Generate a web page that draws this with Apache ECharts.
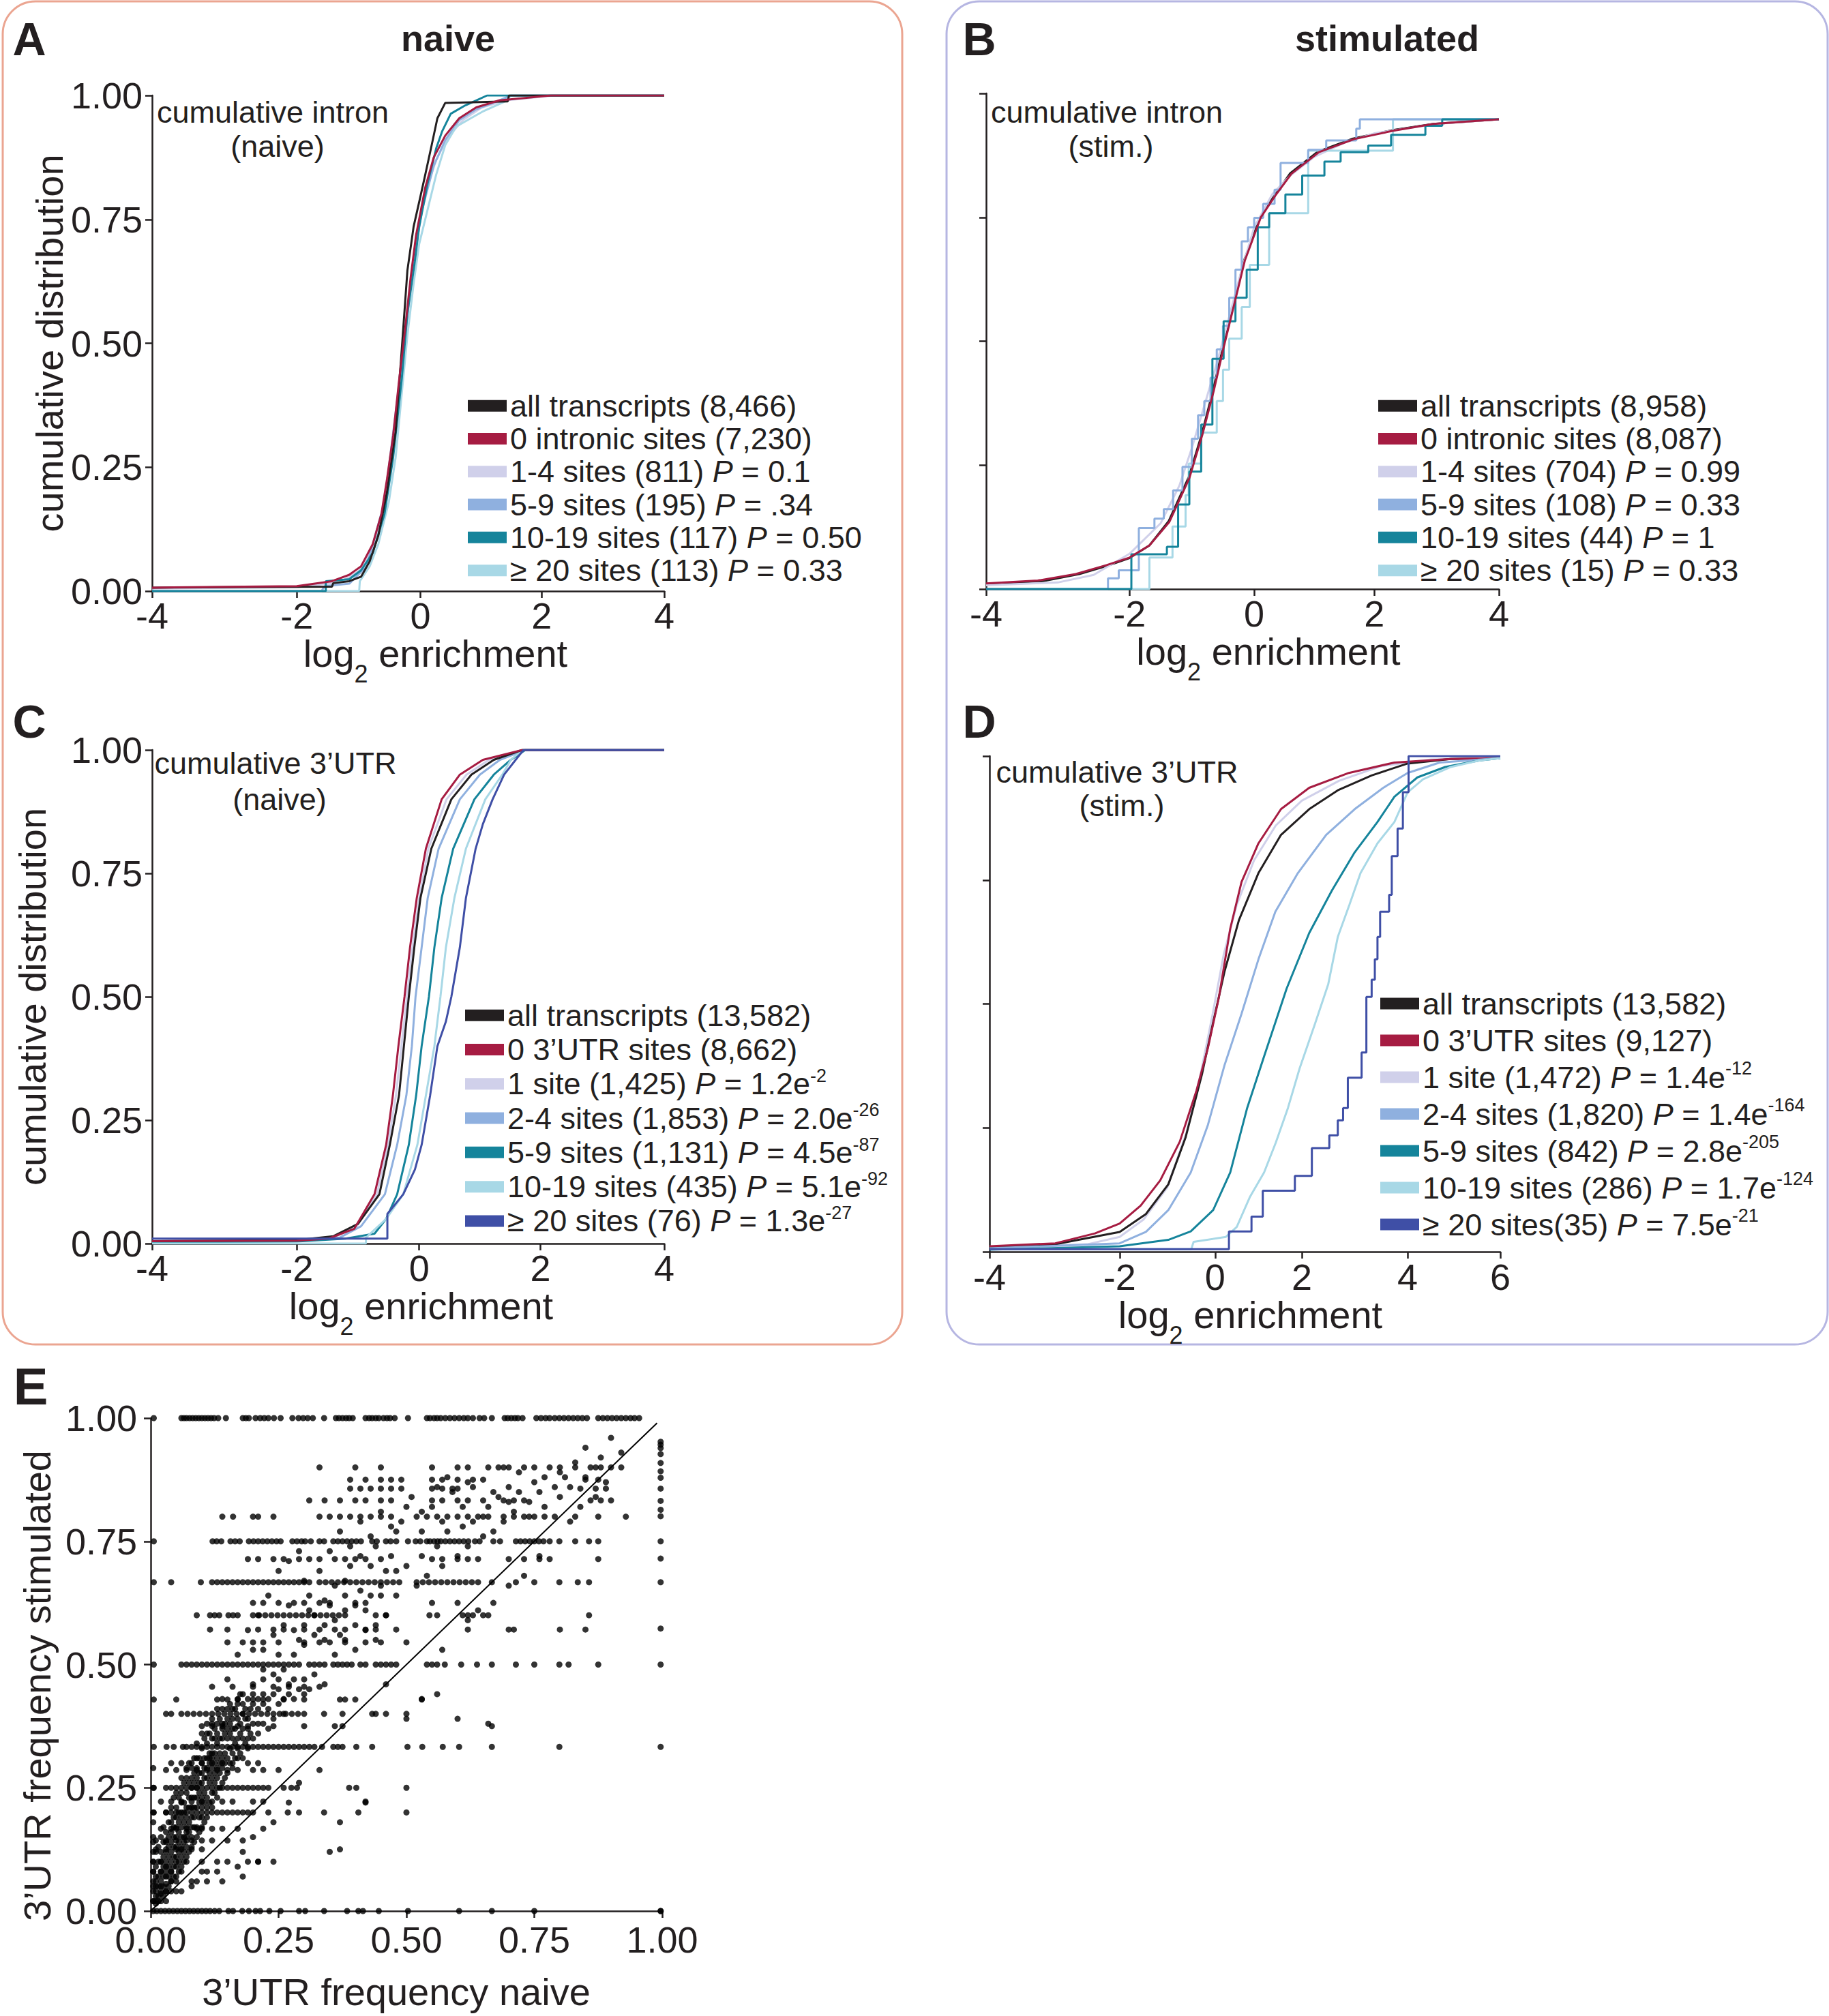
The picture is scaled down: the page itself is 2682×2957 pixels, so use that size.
<!DOCTYPE html>
<html><head><meta charset="utf-8">
<script src="https://cdn.jsdelivr.net/npm/echarts@6/dist/echarts.min.js"></script>
<style>html,body{margin:0;padding:0;background:#fff}#c{width:2682px;height:2957px}</style>
</head><body><div id="c"></div>
<script>
// ---------- tick values of the log2 enrichment axes ----------
const X_TICKS_ABC = [-4,-2,0,2,4];
const X_TICKS_D   = [-4,-2,0,2,4,6];

// ---------- Panel A: cumulative intron (naive) ----------
const A_all   = [[-4,0.007],[-1.43,0.009],[-1.41,0.016],[-1.15,0.02],[-0.96,0.029],[-0.82,0.06],[-0.68,0.112],[-0.54,0.2],[-0.4,0.323],[-0.3,0.49],[-0.21,0.647],[-0.11,0.735],[0,0.796],[0.08,0.84],[0.19,0.902],[0.28,0.954],[0.41,0.985],[1.44,0.988],[1.46,1.0],[4,1.0]];
const A_zero  = [[-4,0.007],[-2,0.01],[-1.43,0.02],[-1.15,0.033],[-0.96,0.05],[-0.77,0.095],[-0.63,0.156],[-0.54,0.226],[-0.44,0.314],[-0.35,0.419],[-0.25,0.525],[-0.16,0.63],[-0.07,0.718],[0.08,0.814],[0.22,0.875],[0.41,0.919],[0.64,0.954],[0.92,0.976],[1.3,0.99],[2.15,1.0],[4,1.0]];
const A_s1to4 = [[-4,0.005],[-2,0.008],[-1.3,0.018],[-1.0,0.04],[-0.8,0.08],[-0.65,0.14],[-0.52,0.23],[-0.42,0.33],[-0.33,0.44],[-0.24,0.54],[-0.14,0.64],[-0.04,0.73],[0.1,0.81],[0.26,0.87],[0.45,0.915],[0.7,0.95],[1.0,0.975],[1.4,0.99],[2.2,1.0],[4,1.0]];
const A_s5to9 = [[-4,0.0],[-1.6,0.0],[-1.55,0.01],[-1.15,0.015],[-0.87,0.05],[-0.58,0.18],[-0.4,0.36],[-0.25,0.51],[-0.11,0.665],[0.03,0.77],[0.22,0.858],[0.41,0.91],[0.64,0.95],[0.92,0.972],[1.2,0.985],[1.5,1.0],[4,1.0]];
const A_s10to19 = [[-4,0],[-1.53,0],[-1.53,0.02],[-1.15,0.024],[-0.96,0.042],[-0.77,0.077],[-0.58,0.156],[-0.44,0.27],[-0.3,0.43],[-0.21,0.56],[-0.09,0.665],[-0.02,0.735],[0.12,0.823],[0.26,0.893],[0.36,0.928],[0.5,0.963],[0.74,0.98],[0.92,0.99],[1.1,1.0],[4,1.0]];
const A_s20   = [[-4,0],[-0.99,0],[-0.98,0.02],[-0.82,0.05],[-0.68,0.095],[-0.51,0.18],[-0.4,0.27],[-0.3,0.4],[-0.21,0.516],[-0.11,0.62],[-0.02,0.7],[0.12,0.77],[0.26,0.84],[0.41,0.9],[0.59,0.937],[0.83,0.954],[1.02,0.967],[1.4,0.988],[1.49,1.0],[4,1.0]];

// ---------- Panel B: cumulative intron (stim.) ----------
const B_all   = [[-4,0.01],[-3.2,0.017],[-2.7,0.032],[-2.3,0.05],[-2.0,0.066],[-1.68,0.093],[-1.37,0.145],[-1.05,0.238],[-0.84,0.33],[-0.66,0.423],[-0.5,0.515],[-0.33,0.607],[-0.16,0.7],[0.1,0.792],[0.34,0.838],[0.6,0.885],[1.06,0.931],[1.65,0.959],[2.3,0.977],[2.95,0.99],[4,1.0]];
const B_zero  = [[-4,0.012],[-3.28,0.018],[-2.75,0.032],[-2.32,0.051],[-2.0,0.067],[-1.68,0.093],[-1.36,0.143],[-1.04,0.236],[-0.83,0.329],[-0.65,0.421],[-0.49,0.514],[-0.32,0.606],[-0.15,0.699],[0.11,0.791],[0.35,0.837],[0.62,0.884],[1.08,0.93],[1.67,0.958],[2.32,0.976],[2.95,0.99],[4,1.0]];
const B_s1to4 = [[-4,0.008],[-3,0.014],[-2.5,0.03],[-2.0,0.075],[-1.5,0.14],[-1.2,0.22],[-1.0,0.3],[-0.8,0.39],[-0.6,0.48],[-0.4,0.58],[-0.2,0.68],[0,0.77],[0.3,0.84],[0.6,0.88],[1.0,0.92],[1.5,0.95],[2,0.97],[3,0.99],[4,1.0]];
const B_s5to9 = [[-4,0.0],[-2.3,0.023],[-2.15,0.04],[-1.85,0.13],[-1.6,0.15],[-1.45,0.17],[-1.3,0.21],[-1.15,0.26],[-1.0,0.32],[-0.9,0.37],[-0.8,0.4],[-0.7,0.45],[-0.6,0.51],[-0.5,0.56],[-0.4,0.62],[-0.3,0.68],[-0.2,0.74],[-0.1,0.77],[0.0,0.79],[0.15,0.82],[0.34,0.85],[0.44,0.907],[0.9,0.935],[1.2,0.955],[1.7,0.98],[1.76,1.0],[4,1.0]];
const B_s10to19 = [[-4,0],[-1.97,0.074],[-1.4,0.09],[-1.22,0.18],[-1.04,0.25],[-0.85,0.35],[-0.67,0.49],[-0.49,0.57],[-0.3,0.62],[-0.12,0.68],[0.06,0.77],[0.25,0.8],[0.52,0.84],[0.8,0.88],[1.17,0.91],[1.44,0.93],[1.9,0.944],[2.27,0.967],[2.82,0.986],[3.09,1.0],[4,1.0]];
const B_s20   = [[-4,0],[-1.68,0.067],[-1.31,0.133],[-1.1,0.2],[-1.05,0.267],[-0.85,0.333],[-0.6,0.4],[-0.5,0.467],[-0.4,0.533],[-0.2,0.6],[-0.07,0.69],[0.25,0.8],[0.9,0.933],[2.3,1.0],[4,1.0]];

// ---------- Panel C: cumulative 3'UTR (naive) ----------
const C_all   = [[-4,0.005],[-2,0.007],[-1.4,0.015],[-1.0,0.04],[-0.65,0.1],[-0.48,0.2],[-0.33,0.3],[-0.25,0.4],[-0.17,0.5],[-0.08,0.6],[0.02,0.7],[0.2,0.8],[0.53,0.9],[0.86,0.95],[1.23,0.98],[1.7,1.0],[4,1.0]];
const C_zero  = [[-4,0.005],[-2,0.006],[-1.48,0.01],[-1.06,0.03],[-0.73,0.1],[-0.54,0.2],[-0.43,0.3],[-0.34,0.4],[-0.24,0.5],[-0.15,0.6],[-0.04,0.7],[0.11,0.8],[0.37,0.9],[0.67,0.95],[1.05,0.98],[1.7,1.0],[4,1.0]];
const C_s1    = [[-4,0.004],[-2,0.006],[-1.4,0.012],[-1.02,0.035],[-0.69,0.1],[-0.51,0.2],[-0.38,0.3],[-0.29,0.4],[-0.2,0.5],[-0.11,0.6],[0.0,0.7],[0.15,0.8],[0.45,0.9],[0.78,0.95],[1.15,0.98],[1.7,1.0],[4,1.0]];
const C_s2to4 = [[-4,0.003],[-2,0.005],[-1.3,0.012],[-0.95,0.035],[-0.56,0.1],[-0.36,0.2],[-0.21,0.3],[-0.12,0.4],[-0.06,0.5],[0.04,0.6],[0.14,0.7],[0.32,0.8],[0.67,0.9],[1.0,0.95],[1.33,0.98],[1.75,1.0],[4,1.0]];
const C_s5to9 = [[-4,0.003],[-2,0.004],[-1.2,0.01],[-0.73,0.02],[-0.54,0.05],[-0.36,0.1],[-0.17,0.2],[-0.05,0.3],[0.04,0.4],[0.16,0.5],[0.25,0.6],[0.37,0.7],[0.56,0.8],[0.91,0.9],[1.23,0.95],[1.51,0.98],[1.75,1.0],[4,1.0]];
const C_s10to19 = [[-4,0],[-0.87,0],[-0.87,0.012],[-0.54,0.05],[-0.26,0.1],[-0.03,0.2],[0.11,0.3],[0.25,0.4],[0.35,0.5],[0.44,0.6],[0.58,0.7],[0.77,0.8],[1.09,0.9],[1.37,0.95],[1.51,0.98],[1.7,1.0],[4,1.0]];
const C_s20   = [[-4,0.01],[-0.52,0.01],[-0.52,0.06],[-0.26,0.1],[-0.07,0.15],[0.04,0.2],[0.18,0.3],[0.3,0.4],[0.44,0.45],[0.53,0.5],[0.67,0.6],[0.77,0.7],[0.93,0.8],[1.05,0.85],[1.21,0.9],[1.4,0.95],[1.59,0.98],[1.72,1.0],[4,1.0]];

// ---------- Panel D: cumulative 3'UTR (stim.) ----------
const D_all   = [[-4,0.009],[-2.99,0.015],[-2,0.04],[-1.45,0.076],[-0.98,0.136],[-0.62,0.23],[-0.27,0.36],[-0.04,0.463],[0.22,0.566],[0.55,0.669],[1.0,0.764],[1.52,0.841],[2.14,0.893],[2.68,0.931],[3.32,0.961],[4,0.985],[4.93,0.994],[6,0.996]];
const D_zero  = [[-4,0.011],[-2.99,0.017],[-2.38,0.037],[-2,0.057],[-1.56,0.093],[-1.15,0.144],[-0.74,0.222],[-0.39,0.325],[-0.15,0.411],[0.09,0.514],[0.35,0.652],[0.61,0.746],[1.0,0.824],[1.52,0.893],[2.14,0.936],[2.89,0.966],[3.75,0.987],[4.93,0.994],[6,0.996]];
const D_s1    = [[-4,0.008],[-2.5,0.015],[-2,0.03],[-1.5,0.065],[-1.0,0.13],[-0.6,0.24],[-0.3,0.36],[-0.05,0.48],[0.2,0.6],[0.5,0.7],[0.9,0.79],[1.4,0.86],[2.0,0.91],[2.7,0.95],[3.5,0.98],[4.5,0.993],[6,0.996]];
const D_s2to4 = [[-4,0.007],[-2,0.017],[-1.45,0.04],[-0.98,0.084],[-0.51,0.16],[-0.15,0.256],[0.22,0.377],[0.61,0.48],[1.0,0.59],[1.39,0.686],[1.91,0.764],[2.46,0.841],[3.0,0.893],[3.54,0.936],[4,0.966],[4.69,0.987],[6,0.996]];
const D_s5to9 = [[-4,0.004],[-2,0.011],[-0.98,0.024],[-0.51,0.041],[-0.04,0.084],[0.35,0.16],[0.74,0.29],[1.13,0.394],[1.65,0.531],[2.14,0.643],[2.57,0.729],[3.0,0.806],[3.43,0.867],[3.75,0.918],[4.21,0.957],[4.81,0.978],[5.54,0.991],[6,0.996]];
const D_s10to19 = [[-4,0.005],[-0.5,0.005],[-0.45,0.02],[0.25,0.03],[0.5,0.05],[0.8,0.11],[1.13,0.16],[1.4,0.22],[1.68,0.29],[1.95,0.37],[2.25,0.46],[2.5,0.54],[2.68,0.635],[2.9,0.7],[3.11,0.764],[3.43,0.824],[3.75,0.867],[4,0.927],[4.33,0.953],[4.93,0.978],[5.54,0.991],[6,0.996]];
const D_s20   = [[-4,0.005],[0.32,0.041],[0.84,0.071],[1.1,0.123],[1.84,0.153],[2.19,0.209],[2.52,0.235],[2.68,0.265],[2.78,0.29],[2.87,0.351],[3.13,0.402],[3.22,0.514],[3.32,0.549],[3.38,0.59],[3.43,0.635],[3.48,0.686],[3.65,0.72],[3.7,0.798],[3.81,0.854],[3.91,0.927],[4.02,1.0],[6,1.0]];

// ---------- Panel E: scatter, 3'UTR frequency naive (x) vs stimulated (y) ----------
const E_bandY = [1.0,0.0,0.9,0.875,0.857,0.833,0.8,0.75,0.714,0.667,0.625,0.6,0.571,0.545,0.5,0.455,0.429,0.4,0.375,0.333,0.3,0.286,0.25,0.222,0.2,0.167,0.143,0.125,0.1,0.08,0.06,0.04,0.02];
const E_bandX = [
 [0.006,0.06,0.065,0.07,0.076,0.082,0.088,0.094,0.1,0.106,0.112,0.118,0.124,0.132,0.147,0.18,0.186,0.192,0.205,0.214,0.222,0.23,0.241,0.254,0.277,0.289,0.298,0.307,0.317,0.339,0.362,0.368,0.375,0.382,0.388,0.395,0.42,0.427,0.433,0.44,0.446,0.455,0.462,0.468,0.477,0.503,0.54,0.546,0.554,0.56,0.567,0.576,0.585,0.594,0.603,0.612,0.62,0.63,0.643,0.652,0.667,0.692,0.698,0.705,0.712,0.718,0.727,0.754,0.763,0.772,0.78,0.79,0.799,0.808,0.817,0.826,0.835,0.844,0.853,0.875,0.884,0.893,0.902,0.911,0.92,0.929,0.938,0.946,0.955],
 [0.005,0.012,0.02,0.028,0.036,0.044,0.052,0.06,0.068,0.076,0.084,0.092,0.1,0.108,0.116,0.125,0.134,0.152,0.161,0.179,0.192,0.205,0.214,0.232,0.254,0.29,0.302,0.339,0.384,0.406,0.415,0.446,0.503,0.603,0.667,0.75,0.997],
 [0.33,0.4,0.45,0.55,0.6,0.62,0.68,0.7,0.73,0.75,0.78,0.8,0.83,0.87,0.9,0.92],
 [0.39,0.42,0.45,0.47,0.49,0.55,0.57,0.6,0.63,0.65,0.85,0.875],
 [0.39,0.41,0.43,0.45,0.47,0.49,0.55,0.57,0.59,0.6,0.84,0.87,0.89],
 [0.31,0.34,0.37,0.4,0.42,0.45,0.47,0.55,0.57,0.6,0.62,0.65,0.69,0.71,0.73,0.86,0.88,0.9],
 [0.14,0.161,0.2,0.21,0.24,0.33,0.35,0.37,0.39,0.41,0.43,0.45,0.47,0.52,0.54,0.56,0.58,0.6,0.62,0.64,0.66,0.69,0.71,0.73,0.75,0.77,0.79,0.83,0.875,0.929],
 [0.006,0.121,0.129,0.138,0.156,0.165,0.174,0.192,0.201,0.21,0.219,0.228,0.237,0.246,0.254,0.277,0.286,0.295,0.302,0.313,0.33,0.339,0.357,0.366,0.375,0.384,0.393,0.402,0.411,0.433,0.442,0.46,0.469,0.48,0.503,0.518,0.527,0.54,0.546,0.554,0.561,0.567,0.576,0.585,0.594,0.603,0.612,0.621,0.634,0.643,0.67,0.683,0.714,0.723,0.732,0.741,0.75,0.759,0.768,0.799,0.83,0.857,0.875],
 [0.19,0.21,0.24,0.26,0.29,0.31,0.33,0.36,0.38,0.4,0.42,0.45,0.55,0.57,0.6,0.62,0.64,0.7,0.73,0.76,0.78,0.875],
 [0.006,0.04,0.098,0.12,0.13,0.14,0.15,0.16,0.17,0.18,0.19,0.2,0.21,0.22,0.23,0.24,0.25,0.26,0.27,0.28,0.29,0.3,0.31,0.33,0.342,0.354,0.366,0.378,0.39,0.402,0.414,0.426,0.438,0.45,0.462,0.474,0.486,0.52,0.532,0.544,0.556,0.568,0.58,0.592,0.604,0.616,0.628,0.64,0.667,0.714,0.75,0.799,0.835,0.857],
 [0.2,0.22,0.25,0.28,0.3,0.33,0.35,0.4,0.42,0.55,0.6,0.67],
 [0.09,0.116,0.125,0.134,0.152,0.161,0.17,0.2,0.212,0.224,0.236,0.248,0.26,0.272,0.284,0.296,0.308,0.32,0.332,0.344,0.356,0.368,0.38,0.44,0.46,0.545,0.56,0.61,0.62,0.63,0.65,0.857],
 [0.116,0.15,0.21,0.24,0.26,0.3,0.33,0.36,0.38,0.42,0.44,0.48,0.62,0.7,0.71,0.8,0.85],
 [0.15,0.18,0.2,0.22,0.25,0.3,0.33,0.35,0.38,0.42,0.45,0.5],
 [0.006,0.06,0.07,0.08,0.09,0.1,0.11,0.12,0.13,0.14,0.15,0.16,0.17,0.18,0.19,0.2,0.21,0.22,0.23,0.24,0.25,0.26,0.27,0.28,0.29,0.31,0.32,0.33,0.34,0.357,0.366,0.375,0.384,0.393,0.41,0.42,0.44,0.45,0.46,0.47,0.48,0.54,0.55,0.56,0.575,0.607,0.638,0.667,0.714,0.75,0.799,0.817,0.875],
 [0.12,0.16,0.2,0.24,0.27,0.3,0.33],
 [0.006,0.05,0.13,0.15,0.17,0.2,0.22,0.26,0.3,0.37,0.38,0.4,0.53],
 [0.03,0.04,0.06,0.072,0.084,0.096,0.108,0.12,0.132,0.144,0.156,0.168,0.18,0.192,0.204,0.216,0.228,0.24,0.252,0.264,0.276,0.288,0.3,0.339,0.375,0.433,0.46,0.5],
 [0.1,0.12,0.14,0.17,0.19,0.24,0.3,0.36,0.375,0.667],
 [0.006,0.031,0.045,0.063,0.07,0.08,0.09,0.1,0.11,0.12,0.13,0.14,0.15,0.16,0.17,0.18,0.19,0.2,0.21,0.22,0.23,0.24,0.25,0.26,0.27,0.28,0.29,0.3,0.31,0.32,0.335,0.357,0.366,0.375,0.402,0.433,0.502,0.531,0.571,0.603,0.667,0.799],
 [0.04,0.06,0.08,0.1,0.12,0.14,0.16,0.19,0.21],
 [0.03,0.05,0.07,0.09,0.11,0.13,0.15,0.17,0.2,0.22,0.25,0.33],
 [0.006,0.03,0.04,0.05,0.06,0.07,0.08,0.09,0.1,0.11,0.12,0.13,0.14,0.15,0.16,0.17,0.18,0.19,0.2,0.21,0.22,0.23,0.26,0.275,0.286,0.388,0.402,0.5],
 [0.02,0.04,0.06,0.08,0.1,0.12,0.14,0.16,0.2,0.22,0.42],
 [0.006,0.03,0.04,0.05,0.06,0.07,0.08,0.09,0.1,0.11,0.12,0.13,0.14,0.15,0.16,0.17,0.18,0.19,0.2,0.23,0.268,0.29,0.339,0.406,0.5],
 [0.02,0.04,0.05,0.07,0.09,0.1,0.12,0.14,0.17,0.22],
 [0.01,0.03,0.05,0.07,0.08,0.1,0.12,0.15,0.18],
 [0.01,0.03,0.05,0.06,0.08,0.1,0.37],
 [0.005,0.02,0.03,0.05,0.07,0.1,0.19,0.21,0.24],
 [0.005,0.02,0.03,0.04,0.06,0.1,0.13],
 [0.005,0.01,0.02,0.04,0.05,0.08,0.11,0.14],
 [0.005,0.01,0.02,0.03,0.04,0.05],
 [0.005,0.01,0.02,0.03]
];
const E_colX1_Y = [0.952,0.946,0.939,0.927,0.909,0.892,0.879,0.857,0.832,0.814,0.801,0.75,0.715,0.667,0.573,0.5,0.333,0.0];
const E_misc = [[0.01,0.015],[0.015,0.03],[0.02,0.035],[0.025,0.05],[0.03,0.055],[0.035,0.07],[0.04,0.08],[0.045,0.09],[0.05,0.11],[0.055,0.12],[0.06,0.13],[0.065,0.15],[0.07,0.16],[0.075,0.18],[0.08,0.19],[0.085,0.21],[0.09,0.23],[0.095,0.24],[0.1,0.26],[0.105,0.27],[0.11,0.29],[0.115,0.31],[0.12,0.32],[0.125,0.35],[0.13,0.36],[0.14,0.38],[0.15,0.39],[0.16,0.41],[0.17,0.43],[0.18,0.44],[0.2,0.46],[0.22,0.47],[0.24,0.48],[0.26,0.49],[0.28,0.52],[0.3,0.54],[0.32,0.56],[0.34,0.58],[0.36,0.59],[0.38,0.61],[0.4,0.62],[0.43,0.64],[0.45,0.66],[0.48,0.69],[0.5,0.7],[0.53,0.72],[0.56,0.74],[0.58,0.77],[0.61,0.78],[0.63,0.79],[0.66,0.82],[0.68,0.84],[0.7,0.86],[0.72,0.85],[0.75,0.87],[0.77,0.88],[0.8,0.89],[0.83,0.91],[0.85,0.94],[0.88,0.92],[0.9,0.96],[0.92,0.93],
 [0.2,0.15],[0.18,0.12],[0.21,0.1],[0.24,0.18],[0.27,0.22],[0.29,0.26],[0.35,0.12],[0.37,0.18],[0.42,0.22],[0.44,0.4],[0.46,0.46],[0.56,0.44],[0.53,0.43],[0.57,0.53],[0.62,0.59],[0.64,0.61],[0.66,0.6],[0.7,0.66],[0.73,0.68],[0.76,0.72],[0.78,0.75],[0.82,0.79],[0.84,0.82],[0.87,0.84],[0.89,0.87],[0.6,0.39],[0.66,0.38],[0.5,0.39],[0.09,0.06],[0.11,0.08],[0.13,0.1],[0.08,0.05],[0.06,0.04],[0.17,0.09],[0.15,0.1],[0.18,0.07],
 [0.005,0.05],[0.005,0.08],[0.005,0.12],[0.005,0.15],[0.005,0.18],[0.005,0.25],[0.005,0.29],[0.01,0.07],[0.015,0.1],[0.02,0.12],[0.025,0.14],[0.03,0.16],[0.035,0.11],[0.04,0.14],[0.045,0.17],[0.05,0.19],[0.055,0.16],[0.06,0.22],[0.065,0.2],[0.07,0.24],[0.075,0.21],[0.08,0.27],[0.085,0.17],[0.09,0.31],[0.095,0.19],[0.1,0.33],[0.105,0.22],[0.11,0.36],[0.115,0.26],[0.12,0.38],[0.125,0.28],[0.13,0.41],[0.135,0.3],[0.14,0.43],[0.145,0.27],[0.15,0.35],[0.16,0.37],[0.17,0.31],[0.18,0.4],[0.19,0.35],[0.2,0.42],[0.21,0.38],[0.22,0.44],[0.23,0.41],[0.25,0.45],[0.26,0.43],[0.28,0.47],[0.3,0.44],[0.32,0.48],[0.34,0.46],[0.36,0.52],[0.38,0.55],[0.4,0.53],[0.42,0.57],[0.44,0.58],[0.46,0.6],[0.48,0.64],[0.52,0.66],[0.54,0.68],[0.57,0.7],[0.6,0.72],[0.62,0.74],[0.65,0.76],[0.67,0.77],[0.69,0.79],[0.71,0.81],[0.74,0.83],[0.76,0.85],[0.79,0.86],[0.81,0.88],[0.86,0.9]];
const E_dense = [[0.005,0.02],[0.005,0.1],[0.005,0.14],[0.005,0.2],[0.01,0.03],[0.01,0.05],[0.01,0.09],[0.01,0.12],[0.015,0.02],[0.015,0.05],[0.015,0.07],[0.015,0.13],[0.02,0.05],[0.02,0.08],[0.02,0.1],[0.02,0.15],[0.025,0.03],[0.025,0.07],[0.025,0.09],[0.025,0.11],[0.025,0.17],[0.03,0.04],[0.03,0.07],[0.03,0.09],[0.03,0.12],[0.03,0.14],[0.03,0.2],[0.035,0.05],[0.035,0.09],[0.035,0.13],[0.035,0.15],[0.035,0.18],[0.04,0.06],[0.04,0.1],[0.04,0.12],[0.04,0.16],[0.04,0.18],[0.04,0.21],[0.045,0.07],[0.045,0.11],[0.045,0.13],[0.045,0.15],[0.045,0.19],[0.045,0.23],[0.05,0.07],[0.05,0.09],[0.05,0.13],[0.05,0.15],[0.05,0.17],[0.05,0.21],[0.05,0.24],[0.055,0.08],[0.055,0.1],[0.055,0.14],[0.055,0.18],[0.055,0.2],[0.055,0.23],[0.06,0.09],[0.06,0.11],[0.06,0.15],[0.06,0.17],[0.06,0.19],[0.06,0.24],[0.06,0.27],[0.065,0.1],[0.065,0.12],[0.065,0.14],[0.065,0.18],[0.065,0.22],[0.065,0.26],[0.07,0.11],[0.07,0.13],[0.07,0.15],[0.07,0.17],[0.07,0.19],[0.07,0.21],[0.07,0.27],[0.07,0.29],[0.075,0.12],[0.075,0.16],[0.075,0.23],[0.075,0.26],[0.075,0.3],[0.08,0.13],[0.08,0.15],[0.08,0.17],[0.08,0.21],[0.08,0.23],[0.08,0.25],[0.08,0.29],[0.085,0.14],[0.085,0.19],[0.085,0.23],[0.085,0.26],[0.085,0.28],[0.085,0.31],[0.09,0.15],[0.09,0.17],[0.09,0.21],[0.09,0.25],[0.09,0.27],[0.09,0.29],[0.09,0.34],[0.095,0.16],[0.095,0.22],[0.095,0.26],[0.095,0.28],[0.095,0.31],[0.1,0.17],[0.1,0.19],[0.1,0.21],[0.1,0.23],[0.1,0.28],[0.1,0.3],[0.1,0.36],[0.105,0.18],[0.105,0.24],[0.105,0.29],[0.105,0.31],[0.105,0.35],[0.11,0.19],[0.11,0.21],[0.11,0.23],[0.11,0.27],[0.11,0.31],[0.11,0.34],[0.11,0.38],[0.115,0.22],[0.115,0.28],[0.115,0.3],[0.115,0.32],[0.115,0.36],[0.12,0.21],[0.12,0.24],[0.12,0.27],[0.12,0.29],[0.12,0.31],[0.12,0.35],[0.12,0.39],[0.125,0.24],[0.125,0.26],[0.125,0.3],[0.125,0.32],[0.125,0.37],[0.13,0.23],[0.13,0.27],[0.13,0.29],[0.13,0.31],[0.13,0.34],[0.13,0.38],[0.135,0.25],[0.135,0.28],[0.135,0.32],[0.135,0.35],[0.135,0.39],[0.14,0.26],[0.14,0.29],[0.14,0.31],[0.14,0.35],[0.14,0.37],[0.14,0.41],[0.145,0.3],[0.145,0.32],[0.145,0.36],[0.145,0.38],[0.15,0.28],[0.15,0.31],[0.15,0.37],[0.15,0.41],[0.155,0.3],[0.155,0.33],[0.155,0.36],[0.155,0.38],[0.155,0.42],[0.16,0.29],[0.16,0.32],[0.16,0.35],[0.16,0.39],[0.165,0.31],[0.165,0.34],[0.165,0.37],[0.165,0.41],[0.17,0.33],[0.17,0.35],[0.17,0.39],[0.17,0.42],[0.175,0.32],[0.175,0.36],[0.175,0.38],[0.175,0.44],[0.18,0.31],[0.18,0.35],[0.18,0.37],[0.18,0.42],[0.185,0.34],[0.185,0.39],[0.185,0.41],[0.19,0.33],[0.19,0.37],[0.19,0.39],[0.19,0.43],[0.195,0.36],[0.195,0.41],[0.2,0.35],[0.2,0.38],[0.2,0.44],[0.21,0.36],[0.21,0.41],[0.21,0.43],[0.22,0.38],[0.22,0.42],[0.23,0.37],[0.23,0.43],[0.24,0.39],[0.24,0.44],[0.25,0.42],[0.25,0.47],[0.26,0.4],[0.27,0.44],[0.27,0.46],[0.28,0.43],[0.29,0.45],[0.3,0.47],[0.31,0.45],
 [0.22,0.53],[0.24,0.56],[0.26,0.58],[0.27,0.62],[0.29,0.55],[0.3,0.58],[0.31,0.64],[0.32,0.6],[0.33,0.69],[0.34,0.55],[0.35,0.62],[0.36,0.66],[0.37,0.56],[0.38,0.64],[0.39,0.7],[0.4,0.58],[0.41,0.65],[0.42,0.61],[0.43,0.7],[0.44,0.55],[0.45,0.64],[0.46,0.69],[0.47,0.78],[0.35,0.73],[0.37,0.77],[0.39,0.74],[0.41,0.79],[0.43,0.76],[0.45,0.81],[0.47,0.72],[0.49,0.79],[0.51,0.84],[0.53,0.77],[0.55,0.82],[0.57,0.79],[0.59,0.85],[0.61,0.82],[0.63,0.86],[0.65,0.8],[0.67,0.85],[0.69,0.9],[0.25,0.69],[0.27,0.71],[0.29,0.73],[0.3,0.67],[0.23,0.64],[0.21,0.6],[0.19,0.57],[0.17,0.52],[0.2,0.53],[0.15,0.47],[0.22,0.49],[0.25,0.52],[0.28,0.57],[0.31,0.61],[0.34,0.63],[0.38,0.67],[0.41,0.72],[0.44,0.74],[0.48,0.77],[0.5,0.82],[0.53,0.81],[0.56,0.86],[0.58,0.88],[0.62,0.87],[0.66,0.9],[0.7,0.83],[0.72,0.89],[0.74,0.8],[0.77,0.82],[0.8,0.84],[0.82,0.86],[0.85,0.88],[0.88,0.9]];
const E_diag = [[0,0],[0.99,0.99]];

// ---------- Legend labels ----------
const LABELS = {
 A0:'all transcripts (8,466)', A1:'0 intronic sites (7,230)', A2:'1-4 sites (811) {i|P} = 0.1', A3:'5-9 sites (195) {i|P} = .34', A4:'10-19 sites (117) {i|P} = 0.50', A5:'≥ 20 sites (113) {i|P} = 0.33',
 B0:'all transcripts (8,958)', B1:'0 intronic sites (8,087)', B2:'1-4 sites (704) {i|P} = 0.99', B3:'5-9 sites (108) {i|P} = 0.33', B4:'10-19 sites (44) {i|P} = 1', B5:'≥ 20 sites (15) {i|P} = 0.33',
 C0:'all transcripts (13,582)', C1:'0 3’UTR sites (8,662)', C2:'1 site (1,425) {i|P} = 1.2e{s|-2}', C3:'2-4 sites (1,853) {i|P} = 2.0e{s|-26}', C4:'5-9 sites (1,131) {i|P} = 4.5e{s|-87}', C5:'10-19 sites (435) {i|P} = 5.1e{s|-92}', C6:'≥ 20 sites (76) {i|P} = 1.3e{s|-27}',
 D0:'all transcripts (13,582)', D1:'0 3’UTR sites (9,127)', D2:'1 site (1,472) {i|P} = 1.4e{s|-12}', D3:'2-4 sites (1,820) {i|P} = 1.4e{s|-164}', D4:'5-9 sites (842) {i|P} = 2.8e{s|-205}', D5:'10-19 sites (286) {i|P} = 1.7e{s|-124}', D6:'≥ 20 sites(35) {i|P} = 7.5e{s|-21}'
};

// ---------- layout: where the reference draws each tick along its x axis (fraction of axis length) ----------
const POS_A = [0,0.2825,0.5239,0.7608,1];
const POS_B = [0,0.2796,0.5227,0.7569,1];
const POS_C = [0,0.2825,0.5216,0.7585,1];
const POS_D = [0,0.2548,0.4416,0.6114,0.8186,1];

const FF = "'Liberation Sans', Arial, Helvetica, sans-serif";
const INK = '#231f20';
const COL = {all:'#231f20', zero:'#a61c42', s1:'#d0d0ea', s2:'#8fb0df', s3:'#15849b', s4:'#a8d8e6', s5:'#3f4fa6'};

// piecewise-linear axis scale that follows the reference's tick placement
function scaleX(v, ticks, pos) {
  for (let i = 0; i < ticks.length - 1; i++) {
    if (v <= ticks[i+1] || i === ticks.length - 2) {
      return pos[i] + (v - ticks[i]) / (ticks[i+1] - ticks[i]) * (pos[i+1] - pos[i]);
    }
  }
}
function cdf(name, data, color, gi, ticks, pos, step) {
  return {type:'line', name, data:data.map(p => [scaleX(p[0], ticks, pos), p[1]]), xAxisIndex:gi, yAxisIndex:gi,
    symbol:'none', showSymbol:false, step: step ? 'end' : false,
    lineStyle:{color, width:3}, itemStyle:{color}, silent:true, animation:false};
}
function xAx(gi, ticks, pos, m, gap, off) {
  const fmt = v => { let k = 0; pos.forEach((p, i) => { if (Math.abs(p - v) < Math.abs(pos[k] - v)) k = i; }); return String(ticks[k]); };
  return {gridIndex:gi, type:'value', min:0, max:1,
    axisLine:{show:true, onZero:false, lineStyle:{color:INK, width:2.5}},
    axisTick:{show:true, length:10, customValues:pos, lineStyle:{color:INK, width:2.5}},
    axisLabel:{margin:m, fontSize:54, fontFamily:FF, color:INK, customValues:pos, formatter:fmt, showMinLabel:true, showMaxLabel:true},
    splitLine:{show:false},
    name:'log{sub|2} enrichment', nameLocation:'middle', nameGap:gap,
    nameTextStyle:{fontSize:56, fontFamily:FF, color:INK, lineHeight:56, padding:[0,0,0,2*off],
      rich:{sub:{fontSize:36, fontFamily:FF, color:INK, verticalAlign:'top', lineHeight:36, padding:[40,0,0,0]}}}
  };
}
function yAx(gi, max, interval, showLabels, gap) {
  return {gridIndex:gi, type:'value', min:0, max, interval,
    axisLine:{show:true, onZero:false, lineStyle:{color:INK, width:2.5}},
    axisTick:{show:true, length:10, lineStyle:{color:INK, width:2.5}},
    axisLabel:{show:showLabels, margin:14, fontSize:54, fontFamily:FF, color:INK, formatter:v=>v.toFixed(2)},
    splitLine:{show:false},
    name: showLabels ? 'cumulative distribution' : '', nameLocation:'middle', nameGap:gap,
    nameTextStyle:{fontSize:56, fontFamily:FF, color:INK}
  };
}
function leg(names, left, top, lh) {
  return {data:names, left, top, orient:'vertical', padding:0, itemGap:0, itemWidth:57, itemHeight:17,
    icon:'rect', selectedMode:false, itemStyle:{borderWidth:0},
    formatter:n=>LABELS[n],
    textStyle:{fontSize:45, fontFamily:FF, color:INK, lineHeight:lh,
      rich:{i:{fontSize:45, fontFamily:FF, fontStyle:'italic', color:INK, lineHeight:lh},
            s:{fontSize:27, fontFamily:FF, color:INK, verticalAlign:'top', lineHeight:27}}}
  };
}
function txt(x, y, text, size, weight) {
  return {type:'text', silent:true, style:{x, y, text, fill:INK, fontSize:size, fontFamily:FF, fontWeight:weight||'normal', align:'center', verticalAlign:'middle'}};
}

const E_points = [];
E_bandY.forEach((y, k) => E_bandX[k].forEach(x => E_points.push([x, y])));
E_colX1_Y.forEach(y => E_points.push([0.997, y]));
E_misc.forEach(p => E_points.push(p));
E_dense.forEach(p => E_points.push(p));

const T = X_TICKS_ABC, TD = X_TICKS_D;
const option = {
  animation:false,
  grid:[
    {left:223, top:140, width:751, height:727},
    {left:1446, top:137, width:752, height:727},
    {left:223, top:1100, width:751, height:724},
    {left:1451, top:1109, width:749, height:727},
    {left:221, top:2080, width:750, height:723}
  ],
  xAxis:[
    xAx(0, T, POS_A, 9, 59, 40),
    xAx(1, T, POS_B, 9, 61, 38),
    xAx(2, T, POS_C, 9, 58, 19),
    xAx(3, TD, POS_D, 10, 33, 8),
    {gridIndex:4, type:'value', min:0, max:1, interval:0.25,
     axisLine:{show:true, onZero:false, lineStyle:{color:INK, width:2.5}},
     axisTick:{show:true, length:10, lineStyle:{color:INK, width:2.5}},
     axisLabel:{margin:15, fontSize:54, fontFamily:FF, color:INK, formatter:v=>v.toFixed(2), showMinLabel:true, showMaxLabel:true},
     splitLine:{show:false},
     name:'3’UTR frequency naive', nameLocation:'middle', nameGap:90,
     nameTextStyle:{fontSize:56, fontFamily:FF, color:INK, padding:[0,30,0,0]}}
  ],
  yAxis:[
    yAx(0,1,0.25,true,122),
    yAx(1,1.055,0.26375,false,0),
    yAx(2,1,0.25,true,148),
    yAx(3,1,0.25,false,0),
    {gridIndex:4, type:'value', min:0, max:1, interval:0.25,
     axisLine:{show:true, onZero:false, lineStyle:{color:INK, width:2.5}},
     axisTick:{show:true, length:10, lineStyle:{color:INK, width:2.5}},
     axisLabel:{margin:20, fontSize:54, fontFamily:FF, color:INK, formatter:v=>v.toFixed(2)},
     splitLine:{show:false},
     name:'3’UTR frequency stimulated', nameLocation:'middle', nameGap:139,
     nameTextStyle:{fontSize:56, fontFamily:FF, color:INK, padding:[0,62,0,0]}}
  ],
  legend:[
    leg(['A0','A1','A2','A3','A4','A5'], 686, 571, 48.3),
    leg(['B0','B1','B2','B3','B4','B5'], 2021, 571, 48.3),
    leg(['C0','C1','C2','C3','C4','C5','C6'], 682, 1464, 50.3),
    leg(['D0','D1','D2','D3','D4','D5','D6'], 2024, 1445, 54)
  ],
  series:[
    cdf('A2', A_s1to4, COL.s1, 0, T, POS_A), cdf('A3', A_s5to9, COL.s2, 0, T, POS_A), cdf('A5', A_s20, COL.s4, 0, T, POS_A),
    cdf('A4', A_s10to19, COL.s3, 0, T, POS_A), cdf('A0', A_all, COL.all, 0, T, POS_A), cdf('A1', A_zero, COL.zero, 0, T, POS_A),

    cdf('B0', B_all, COL.all, 1, T, POS_B), cdf('B2', B_s1to4, COL.s1, 1, T, POS_B), cdf('B5', B_s20, COL.s4, 1, T, POS_B, true),
    cdf('B3', B_s5to9, COL.s2, 1, T, POS_B, true), cdf('B4', B_s10to19, COL.s3, 1, T, POS_B, true), cdf('B1', B_zero, COL.zero, 1, T, POS_B),

    cdf('C2', C_s1, COL.s1, 2, T, POS_C), cdf('C3', C_s2to4, COL.s2, 2, T, POS_C), cdf('C4', C_s5to9, COL.s3, 2, T, POS_C),
    cdf('C5', C_s10to19, COL.s4, 2, T, POS_C), cdf('C0', C_all, COL.all, 2, T, POS_C), cdf('C1', C_zero, COL.zero, 2, T, POS_C),
    cdf('C6', C_s20, COL.s5, 2, T, POS_C),

    cdf('D2', D_s1, COL.s1, 3, TD, POS_D), cdf('D0', D_all, COL.all, 3, TD, POS_D), cdf('D1', D_zero, COL.zero, 3, TD, POS_D),
    cdf('D3', D_s2to4, COL.s2, 3, TD, POS_D), cdf('D4', D_s5to9, COL.s3, 3, TD, POS_D), cdf('D5', D_s10to19, COL.s4, 3, TD, POS_D),
    cdf('D6', D_s20, COL.s5, 3, TD, POS_D, true),

    {type:'scatter', name:'E', data:E_points, xAxisIndex:4, yAxisIndex:4, symbol:'circle', symbolSize:9,
     itemStyle:{color:'#000'}, silent:true, animation:false},
    {type:'line', name:'Ediag', data:E_diag, xAxisIndex:4, yAxisIndex:4, symbol:'none', showSymbol:false,
     lineStyle:{color:'#000', width:2}, silent:true, animation:false}
  ],
  graphic:[
    {type:'rect', silent:true, shape:{x:4, y:2, width:1319, height:1970, r:48}, style:{fill:'none', stroke:'#eba591', lineWidth:3}},
    {type:'rect', silent:true, shape:{x:1388, y:2, width:1292, height:1970, r:48}, style:{fill:'none', stroke:'#b6b6e2', lineWidth:3}},
    txt(43, 57, 'A', 68, 'bold'), txt(1436, 57, 'B', 68, 'bold'),
    txt(43, 1058, 'C', 68, 'bold'), txt(1436, 1058, 'D', 68, 'bold'),
    txt(45, 2033, 'E', 76, 'bold'),
    txt(657, 56, 'naive', 54, 'bold'), txt(2034, 56, 'stimulated', 54, 'bold'),
    txt(400, 164, 'cumulative intron', 45), txt(407, 214, '(naive)', 45),
    txt(1623, 164, 'cumulative intron', 45), txt(1629, 214, '(stim.)', 45),
    txt(404, 1119, 'cumulative 3’UTR', 45), txt(410, 1172, '(naive)', 45),
    txt(1638, 1132, 'cumulative 3’UTR', 45), txt(1645, 1181, '(stim.)', 45)
  ]
};
const chart = echarts.init(document.getElementById('c'), null, {renderer:'svg', width:2682, height:2957});
chart.setOption(option);
</script></body></html>
